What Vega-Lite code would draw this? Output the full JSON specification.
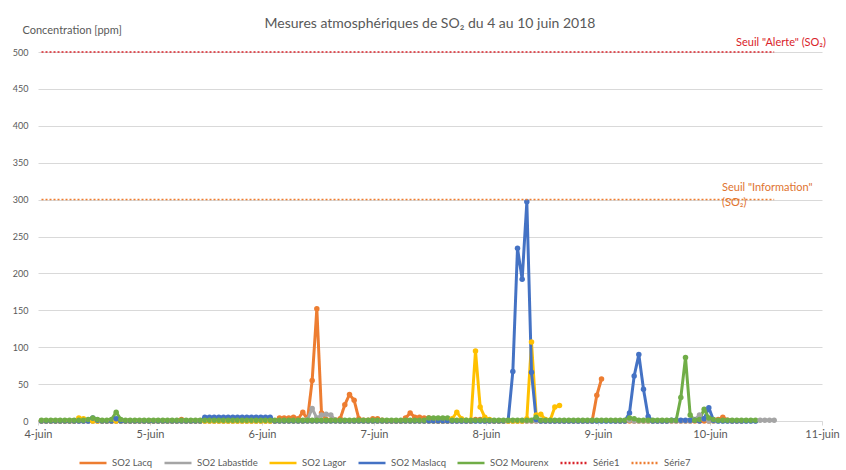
{
"$schema": "https://vega.github.io/schema/vega-lite/v6.json",
"width": 784, "height": 369,
"autosize": {"type": "none"},
"padding": {"left": 38, "top": 52, "right": 24, "bottom": 49},
"background": "white",
"title": {"text": "Mesures atmosphériques de SO₂ du 4 au 10 juin 2018", "fontSize": 14, "fontWeight": "normal", "color": "#595959", "font": "Lato", "anchor": "middle", "offset": -7},
"datasets": {
"so2": [
{"t":"2018-06-04T00:45","Lacq":0,"Labastide":0,"Lagor":0,"Maslacq":0,"Mourenx":1},
{"t":"2018-06-04T01:45","Lacq":0,"Labastide":0,"Lagor":0,"Maslacq":0,"Mourenx":1},
{"t":"2018-06-04T02:45","Lacq":0,"Labastide":0,"Lagor":0,"Maslacq":0,"Mourenx":1},
{"t":"2018-06-04T03:45","Lacq":0,"Labastide":0,"Lagor":0,"Maslacq":0,"Mourenx":1},
{"t":"2018-06-04T04:45","Lacq":0,"Labastide":0,"Lagor":0,"Maslacq":0,"Mourenx":1},
{"t":"2018-06-04T05:45","Lacq":0,"Labastide":0,"Lagor":0,"Maslacq":0,"Mourenx":1},
{"t":"2018-06-04T06:45","Lacq":0,"Labastide":0,"Lagor":0,"Maslacq":0,"Mourenx":1},
{"t":"2018-06-04T07:45","Lacq":0,"Labastide":0,"Lagor":0,"Maslacq":0,"Mourenx":1},
{"t":"2018-06-04T08:45","Lacq":0,"Labastide":0,"Lagor":4,"Maslacq":0,"Mourenx":1},
{"t":"2018-06-04T09:45","Lacq":0,"Labastide":0,"Lagor":3,"Maslacq":0,"Mourenx":1},
{"t":"2018-06-04T10:45","Lacq":0,"Labastide":0,"Lagor":1,"Maslacq":0,"Mourenx":2},
{"t":"2018-06-04T11:45","Lacq":0,"Labastide":0,"Lagor":0,"Maslacq":4,"Mourenx":4},
{"t":"2018-06-04T12:45","Lacq":0,"Labastide":0,"Lagor":0,"Maslacq":1,"Mourenx":2},
{"t":"2018-06-04T13:45","Lacq":0,"Labastide":0,"Lagor":0,"Maslacq":0,"Mourenx":1},
{"t":"2018-06-04T14:45","Lacq":0,"Labastide":0,"Lagor":0,"Maslacq":0,"Mourenx":1},
{"t":"2018-06-04T15:45","Lacq":0,"Labastide":0,"Lagor":0,"Maslacq":0,"Mourenx":2},
{"t":"2018-06-04T16:45","Lacq":0,"Labastide":0,"Lagor":0,"Maslacq":3,"Mourenx":12},
{"t":"2018-06-04T17:45","Lacq":0,"Labastide":0,"Lagor":0,"Maslacq":0,"Mourenx":2},
{"t":"2018-06-04T18:45","Lacq":0,"Labastide":0,"Lagor":0,"Maslacq":0,"Mourenx":1},
{"t":"2018-06-04T19:45","Lacq":0,"Labastide":0,"Lagor":0,"Maslacq":0,"Mourenx":1},
{"t":"2018-06-04T20:45","Lacq":0,"Labastide":0,"Lagor":0,"Maslacq":0,"Mourenx":1},
{"t":"2018-06-04T21:45","Lacq":0,"Labastide":0,"Lagor":0,"Maslacq":0,"Mourenx":1},
{"t":"2018-06-04T22:45","Lacq":0,"Labastide":0,"Lagor":0,"Maslacq":0,"Mourenx":1},
{"t":"2018-06-04T23:45","Lacq":0,"Labastide":0,"Lagor":0,"Maslacq":0,"Mourenx":1},
{"t":"2018-06-05T00:45","Lacq":0,"Labastide":0,"Lagor":0,"Maslacq":0,"Mourenx":1},
{"t":"2018-06-05T01:45","Lacq":0,"Labastide":0,"Lagor":0,"Maslacq":0,"Mourenx":1},
{"t":"2018-06-05T02:45","Lacq":0,"Labastide":0,"Lagor":0,"Maslacq":0,"Mourenx":1},
{"t":"2018-06-05T03:45","Lacq":0,"Labastide":0,"Lagor":0,"Maslacq":0,"Mourenx":1},
{"t":"2018-06-05T04:45","Lacq":0,"Labastide":0,"Lagor":0,"Maslacq":0,"Mourenx":1},
{"t":"2018-06-05T05:45","Lacq":0,"Labastide":0,"Lagor":0,"Maslacq":0,"Mourenx":1},
{"t":"2018-06-05T06:45","Lacq":2,"Labastide":0,"Lagor":0,"Maslacq":0,"Mourenx":1},
{"t":"2018-06-05T07:45","Lacq":0,"Labastide":0,"Lagor":0,"Maslacq":0,"Mourenx":1},
{"t":"2018-06-05T08:45","Lacq":0,"Labastide":0,"Lagor":0,"Maslacq":0,"Mourenx":1},
{"t":"2018-06-05T09:45","Lacq":0,"Labastide":0,"Lagor":0,"Maslacq":0,"Mourenx":1},
{"t":"2018-06-05T10:45","Lacq":0,"Labastide":0,"Lagor":0,"Maslacq":0,"Mourenx":1},
{"t":"2018-06-05T11:45","Lacq":0,"Labastide":0,"Lagor":0,"Maslacq":5,"Mourenx":1},
{"t":"2018-06-05T12:45","Lacq":0,"Labastide":0,"Lagor":0,"Maslacq":5,"Mourenx":1},
{"t":"2018-06-05T13:45","Lacq":0,"Labastide":0,"Lagor":0,"Maslacq":5,"Mourenx":1},
{"t":"2018-06-05T14:45","Lacq":0,"Labastide":0,"Lagor":0,"Maslacq":5,"Mourenx":1},
{"t":"2018-06-05T15:45","Lacq":0,"Labastide":0,"Lagor":0,"Maslacq":5,"Mourenx":1},
{"t":"2018-06-05T16:45","Lacq":0,"Labastide":0,"Lagor":0,"Maslacq":5,"Mourenx":1},
{"t":"2018-06-05T17:45","Lacq":0,"Labastide":0,"Lagor":0,"Maslacq":5,"Mourenx":1},
{"t":"2018-06-05T18:45","Lacq":0,"Labastide":0,"Lagor":0,"Maslacq":5,"Mourenx":1},
{"t":"2018-06-05T19:45","Lacq":0,"Labastide":0,"Lagor":0,"Maslacq":5,"Mourenx":1},
{"t":"2018-06-05T20:45","Lacq":0,"Labastide":0,"Lagor":0,"Maslacq":5,"Mourenx":1},
{"t":"2018-06-05T21:45","Lacq":0,"Labastide":0,"Lagor":0,"Maslacq":5,"Mourenx":1},
{"t":"2018-06-05T22:45","Lacq":0,"Labastide":0,"Lagor":0,"Maslacq":5,"Mourenx":1},
{"t":"2018-06-05T23:45","Lacq":0,"Labastide":0,"Lagor":0,"Maslacq":5,"Mourenx":1},
{"t":"2018-06-06T00:45","Lacq":0,"Labastide":0,"Lagor":0,"Maslacq":5,"Mourenx":1},
{"t":"2018-06-06T01:45","Lacq":0,"Labastide":0,"Lagor":0,"Maslacq":5,"Mourenx":1},
{"t":"2018-06-06T02:45","Lacq":0,"Labastide":0,"Lagor":0,"Maslacq":0,"Mourenx":1},
{"t":"2018-06-06T03:45","Lacq":4,"Labastide":0,"Lagor":0,"Maslacq":0,"Mourenx":1},
{"t":"2018-06-06T04:45","Lacq":4,"Labastide":0,"Lagor":0,"Maslacq":0,"Mourenx":1},
{"t":"2018-06-06T05:45","Lacq":4,"Labastide":0,"Lagor":0,"Maslacq":0,"Mourenx":1},
{"t":"2018-06-06T06:45","Lacq":5,"Labastide":0,"Lagor":0,"Maslacq":0,"Mourenx":1},
{"t":"2018-06-06T07:45","Lacq":3,"Labastide":0,"Lagor":0,"Maslacq":0,"Mourenx":1},
{"t":"2018-06-06T08:45","Lacq":12,"Labastide":0,"Lagor":0,"Maslacq":0,"Mourenx":1},
{"t":"2018-06-06T09:45","Lacq":2,"Labastide":2,"Lagor":0,"Maslacq":0,"Mourenx":1},
{"t":"2018-06-06T10:45","Lacq":55,"Labastide":17,"Lagor":0,"Maslacq":0,"Mourenx":1},
{"t":"2018-06-06T11:45","Lacq":152,"Labastide":4,"Lagor":0,"Maslacq":0,"Mourenx":1},
{"t":"2018-06-06T12:45","Lacq":11,"Labastide":8,"Lagor":0,"Maslacq":0,"Mourenx":1},
{"t":"2018-06-06T13:45","Lacq":2,"Labastide":9,"Lagor":0,"Maslacq":0,"Mourenx":1},
{"t":"2018-06-06T14:45","Lacq":1,"Labastide":8,"Lagor":0,"Maslacq":0,"Mourenx":1},
{"t":"2018-06-06T15:45","Lacq":1,"Labastide":1,"Lagor":0,"Maslacq":0,"Mourenx":1},
{"t":"2018-06-06T16:45","Lacq":3,"Labastide":0,"Lagor":0,"Maslacq":0,"Mourenx":1},
{"t":"2018-06-06T17:45","Lacq":22,"Labastide":0,"Lagor":0,"Maslacq":0,"Mourenx":1},
{"t":"2018-06-06T18:45","Lacq":36,"Labastide":0,"Lagor":0,"Maslacq":0,"Mourenx":1},
{"t":"2018-06-06T19:45","Lacq":28,"Labastide":0,"Lagor":0,"Maslacq":0,"Mourenx":1},
{"t":"2018-06-06T20:45","Lacq":3,"Labastide":0,"Lagor":0,"Maslacq":0,"Mourenx":1},
{"t":"2018-06-06T21:45","Lacq":1,"Labastide":0,"Lagor":0,"Maslacq":0,"Mourenx":1},
{"t":"2018-06-06T22:45","Lacq":1,"Labastide":0,"Lagor":0,"Maslacq":0,"Mourenx":1},
{"t":"2018-06-06T23:45","Lacq":3,"Labastide":0,"Lagor":0,"Maslacq":0,"Mourenx":1},
{"t":"2018-06-07T00:45","Lacq":3,"Labastide":0,"Lagor":0,"Maslacq":0,"Mourenx":1},
{"t":"2018-06-07T01:45","Lacq":1,"Labastide":0,"Lagor":0,"Maslacq":0,"Mourenx":1},
{"t":"2018-06-07T02:45","Lacq":0,"Labastide":0,"Lagor":0,"Maslacq":0,"Mourenx":1},
{"t":"2018-06-07T03:45","Lacq":0,"Labastide":0,"Lagor":0,"Maslacq":0,"Mourenx":1},
{"t":"2018-06-07T04:45","Lacq":0,"Labastide":0,"Lagor":0,"Maslacq":0,"Mourenx":1},
{"t":"2018-06-07T05:45","Lacq":0,"Labastide":0,"Lagor":0,"Maslacq":0,"Mourenx":1},
{"t":"2018-06-07T06:45","Lacq":4,"Labastide":0,"Lagor":0,"Maslacq":0,"Mourenx":1},
{"t":"2018-06-07T07:45","Lacq":11,"Labastide":0,"Lagor":0,"Maslacq":0,"Mourenx":1},
{"t":"2018-06-07T08:45","Lacq":5,"Labastide":0,"Lagor":0,"Maslacq":0,"Mourenx":1},
{"t":"2018-06-07T09:45","Lacq":5,"Labastide":0,"Lagor":0,"Maslacq":0,"Mourenx":1},
{"t":"2018-06-07T10:45","Lacq":4,"Labastide":0,"Lagor":0,"Maslacq":0,"Mourenx":1},
{"t":"2018-06-07T11:45","Lacq":4,"Labastide":0,"Lagor":0,"Maslacq":0,"Mourenx":4},
{"t":"2018-06-07T12:45","Lacq":2,"Labastide":0,"Lagor":0,"Maslacq":0,"Mourenx":4},
{"t":"2018-06-07T13:45","Lacq":0,"Labastide":0,"Lagor":0,"Maslacq":0,"Mourenx":4},
{"t":"2018-06-07T14:45","Lacq":0,"Labastide":0,"Lagor":0,"Maslacq":0,"Mourenx":4},
{"t":"2018-06-07T15:45","Lacq":0,"Labastide":0,"Lagor":0,"Maslacq":0,"Mourenx":4},
{"t":"2018-06-07T16:45","Lacq":0,"Labastide":0,"Lagor":3,"Maslacq":0,"Mourenx":1},
{"t":"2018-06-07T17:45","Lacq":0,"Labastide":0,"Lagor":12,"Maslacq":0,"Mourenx":1},
{"t":"2018-06-07T18:45","Lacq":0,"Labastide":0,"Lagor":3,"Maslacq":0,"Mourenx":1},
{"t":"2018-06-07T19:45","Lacq":0,"Labastide":0,"Lagor":1,"Maslacq":0,"Mourenx":1},
{"t":"2018-06-07T20:45","Lacq":0,"Labastide":0,"Lagor":0,"Maslacq":0,"Mourenx":1},
{"t":"2018-06-07T21:45","Lacq":2,"Labastide":0,"Lagor":95,"Maslacq":0,"Mourenx":1},
{"t":"2018-06-07T22:45","Lacq":2,"Labastide":0,"Lagor":19,"Maslacq":0,"Mourenx":1},
{"t":"2018-06-07T23:45","Lacq":0,"Labastide":0,"Lagor":5,"Maslacq":0,"Mourenx":1},
{"t":"2018-06-08T00:45","Lacq":0,"Labastide":0,"Lagor":2,"Maslacq":0,"Mourenx":1},
{"t":"2018-06-08T01:45","Lacq":0,"Labastide":0,"Lagor":0,"Maslacq":0,"Mourenx":1},
{"t":"2018-06-08T02:45","Lacq":0,"Labastide":0,"Lagor":0,"Maslacq":0,"Mourenx":1},
{"t":"2018-06-08T03:45","Lacq":0,"Labastide":0,"Lagor":0,"Maslacq":0,"Mourenx":1},
{"t":"2018-06-08T04:45","Lacq":0,"Labastide":0,"Lagor":0,"Maslacq":1,"Mourenx":1},
{"t":"2018-06-08T05:45","Lacq":0,"Labastide":0,"Lagor":0,"Maslacq":67,"Mourenx":1},
{"t":"2018-06-08T06:45","Lacq":0,"Labastide":0,"Lagor":0,"Maslacq":234,"Mourenx":1},
{"t":"2018-06-08T07:45","Lacq":0,"Labastide":0,"Lagor":0,"Maslacq":192,"Mourenx":1},
{"t":"2018-06-08T08:45","Lacq":0,"Labastide":0,"Lagor":3,"Maslacq":297,"Mourenx":1},
{"t":"2018-06-08T09:45","Lacq":0,"Labastide":0,"Lagor":107,"Maslacq":66,"Mourenx":1},
{"t":"2018-06-08T10:45","Lacq":0,"Labastide":0,"Lagor":8,"Maslacq":2,"Mourenx":5},
{"t":"2018-06-08T11:45","Lacq":0,"Labastide":0,"Lagor":9,"Maslacq":0,"Mourenx":1},
{"t":"2018-06-08T12:45","Lacq":0,"Labastide":0,"Lagor":2,"Maslacq":0,"Mourenx":1},
{"t":"2018-06-08T13:45","Lacq":0,"Labastide":0,"Lagor":1,"Maslacq":0,"Mourenx":1},
{"t":"2018-06-08T14:45","Lacq":0,"Labastide":0,"Lagor":19,"Maslacq":0,"Mourenx":1},
{"t":"2018-06-08T15:45","Lacq":0,"Labastide":0,"Lagor":21,"Maslacq":0,"Mourenx":1},
{"t":"2018-06-08T16:45","Lacq":0,"Labastide":0,"Lagor":null,"Maslacq":0,"Mourenx":1},
{"t":"2018-06-08T17:45","Lacq":0,"Labastide":0,"Lagor":null,"Maslacq":0,"Mourenx":1},
{"t":"2018-06-08T18:45","Lacq":0,"Labastide":0,"Lagor":null,"Maslacq":0,"Mourenx":1},
{"t":"2018-06-08T19:45","Lacq":0,"Labastide":0,"Lagor":null,"Maslacq":0,"Mourenx":1},
{"t":"2018-06-08T20:45","Lacq":0,"Labastide":0,"Lagor":null,"Maslacq":0,"Mourenx":1},
{"t":"2018-06-08T21:45","Lacq":0,"Labastide":0,"Lagor":null,"Maslacq":0,"Mourenx":1},
{"t":"2018-06-08T22:45","Lacq":0,"Labastide":0,"Lagor":null,"Maslacq":0,"Mourenx":1},
{"t":"2018-06-08T23:45","Lacq":35,"Labastide":0,"Lagor":null,"Maslacq":0,"Mourenx":1},
{"t":"2018-06-09T00:45","Lacq":57,"Labastide":0,"Lagor":null,"Maslacq":0,"Mourenx":1},
{"t":"2018-06-09T01:45","Lacq":null,"Labastide":0,"Lagor":null,"Maslacq":0,"Mourenx":1},
{"t":"2018-06-09T02:45","Lacq":null,"Labastide":0,"Lagor":null,"Maslacq":0,"Mourenx":1},
{"t":"2018-06-09T03:45","Lacq":0,"Labastide":0,"Lagor":null,"Maslacq":0,"Mourenx":1},
{"t":"2018-06-09T04:45","Lacq":0,"Labastide":0,"Lagor":null,"Maslacq":0,"Mourenx":1},
{"t":"2018-06-09T05:45","Lacq":0,"Labastide":0,"Lagor":null,"Maslacq":0,"Mourenx":1},
{"t":"2018-06-09T06:45","Lacq":0,"Labastide":1,"Lagor":null,"Maslacq":11,"Mourenx":4},
{"t":"2018-06-09T07:45","Lacq":0,"Labastide":0,"Lagor":null,"Maslacq":61,"Mourenx":3},
{"t":"2018-06-09T08:45","Lacq":0,"Labastide":0,"Lagor":null,"Maslacq":90,"Mourenx":1},
{"t":"2018-06-09T09:45","Lacq":0,"Labastide":0,"Lagor":null,"Maslacq":43,"Mourenx":1},
{"t":"2018-06-09T10:45","Lacq":0,"Labastide":0,"Lagor":null,"Maslacq":6,"Mourenx":1},
{"t":"2018-06-09T11:45","Lacq":0,"Labastide":0,"Lagor":null,"Maslacq":0,"Mourenx":1},
{"t":"2018-06-09T12:45","Lacq":0,"Labastide":0,"Lagor":null,"Maslacq":0,"Mourenx":1},
{"t":"2018-06-09T13:45","Lacq":0,"Labastide":0,"Lagor":null,"Maslacq":0,"Mourenx":1},
{"t":"2018-06-09T14:45","Lacq":0,"Labastide":0,"Lagor":null,"Maslacq":0,"Mourenx":1},
{"t":"2018-06-09T15:45","Lacq":0,"Labastide":0,"Lagor":null,"Maslacq":1,"Mourenx":1},
{"t":"2018-06-09T16:45","Lacq":0,"Labastide":0,"Lagor":null,"Maslacq":1,"Mourenx":1},
{"t":"2018-06-09T17:45","Lacq":0,"Labastide":0,"Lagor":null,"Maslacq":1,"Mourenx":32},
{"t":"2018-06-09T18:45","Lacq":0,"Labastide":0,"Lagor":null,"Maslacq":1,"Mourenx":86},
{"t":"2018-06-09T19:45","Lacq":0,"Labastide":0,"Lagor":null,"Maslacq":1,"Mourenx":8},
{"t":"2018-06-09T20:45","Lacq":0,"Labastide":2,"Lagor":null,"Maslacq":1,"Mourenx":1},
{"t":"2018-06-09T21:45","Lacq":0,"Labastide":8,"Lagor":null,"Maslacq":0,"Mourenx":2},
{"t":"2018-06-09T22:45","Lacq":0,"Labastide":3,"Lagor":null,"Maslacq":3,"Mourenx":16},
{"t":"2018-06-09T23:45","Lacq":0,"Labastide":0,"Lagor":null,"Maslacq":18,"Mourenx":4},
{"t":"2018-06-10T00:45","Lacq":0,"Labastide":0,"Lagor":null,"Maslacq":1,"Mourenx":2},
{"t":"2018-06-10T01:45","Lacq":2,"Labastide":0,"Lagor":null,"Maslacq":0,"Mourenx":1},
{"t":"2018-06-10T02:45","Lacq":5,"Labastide":0,"Lagor":null,"Maslacq":0,"Mourenx":1},
{"t":"2018-06-10T03:45","Lacq":1,"Labastide":0,"Lagor":null,"Maslacq":0,"Mourenx":1},
{"t":"2018-06-10T04:45","Lacq":0,"Labastide":0,"Lagor":null,"Maslacq":0,"Mourenx":1},
{"t":"2018-06-10T05:45","Lacq":0,"Labastide":0,"Lagor":null,"Maslacq":0,"Mourenx":1},
{"t":"2018-06-10T06:45","Lacq":0,"Labastide":0,"Lagor":null,"Maslacq":0,"Mourenx":1},
{"t":"2018-06-10T07:45","Lacq":null,"Labastide":0,"Lagor":null,"Maslacq":0,"Mourenx":1},
{"t":"2018-06-10T08:45","Lacq":null,"Labastide":0,"Lagor":null,"Maslacq":0,"Mourenx":1},
{"t":"2018-06-10T09:45","Lacq":null,"Labastide":0,"Lagor":null,"Maslacq":0,"Mourenx":1},
{"t":"2018-06-10T10:45","Lacq":null,"Labastide":1,"Lagor":null,"Maslacq":null,"Mourenx":null},
{"t":"2018-06-10T11:45","Lacq":null,"Labastide":1,"Lagor":null,"Maslacq":null,"Mourenx":null},
{"t":"2018-06-10T12:45","Lacq":null,"Labastide":1,"Lagor":null,"Maslacq":null,"Mourenx":null},
{"t":"2018-06-10T13:45","Lacq":null,"Labastide":1,"Lagor":null,"Maslacq":null,"Mourenx":null}
],
"seuils": [
{"t":"2018-06-04T00:45","v":500,"key":"Série1"},
{"t":"2018-06-10T13:45","v":500,"key":"Série1"},
{"t":"2018-06-04T00:45","v":300,"key":"Série7"},
{"t":"2018-06-10T13:45","v":300,"key":"Série7"}
],
"labels": [
{"t":"2018-06-10T15:13","v":500,"label":"Seuil \"Alerte\" (SO₂)","kind":"alerte"},
{"t":"2018-06-10T02:35","v":300,"label":"Seuil \"Information\"\n(SO₂)","kind":"info"}
]
},
"encoding": {
"x": {"field": "t", "type": "temporal",
 "scale": {"domain": [{"year":2018,"month":6,"date":4},{"year":2018,"month":6,"date":11}]},
 "axis": {"title": null, "grid": false, "tickCount": {"interval": "day", "step": 1},
  "labelExpr": "timeFormat(datum.value, '%-d') + '-juin'",
  "domainColor": "#D9D9D9", "tickColor": "#D9D9D9", "tickSize": 4,
  "labelFontSize": 11, "labelColor": "#595959", "labelPadding": 3,
  "labelFlush": false, "labelOverlap": false}},
"y": {"field": "v", "type": "quantitative",
 "scale": {"domain": [0, 500], "nice": false},
 "axis": {"title": "Concentration [ppm]", "titleAngle": 0, "titleAlign": "left", "titleBaseline": "middle",
  "titleX": -16, "titleY": -22, "titleFontSize": 11, "titleFontWeight": "normal", "titleColor": "#595959",
  "values": [0,50,100,150,200,250,300,350,400,450,500],
  "labelFontSize": 9, "labelColor": "#595959", "labelPadding": 10,
  "ticks": false, "domain": false, "gridColor": "#D9D9D9", "gridWidth": 1}}
},
"layer": [
{"data": {"name": "so2"},
 "transform": [{"fold": ["Lacq","Labastide","Lagor","Maslacq","Mourenx"], "as": ["key","v"]}],
 "mark": {"type": "line", "strokeWidth": 3, "strokeJoin": "round", "strokeCap": "round"},
 "encoding": {
  "color": {"field": "key", "type": "nominal",
   "scale": {"domain": ["Lacq","Labastide","Lagor","Maslacq","Mourenx","Série1","Série7"], "range": ["#ED7D31","#A5A5A5","#FFC000","#4472C4","#70AD47","#D9222A","#ED7D31"]},
   "legend": {"title": null, "orient": "none", "legendX": 40, "legendY": 396, "direction": "horizontal", "columns": 7,
    "symbolType": "stroke", "symbolSize": 729, "symbolStrokeWidth": 2.5, "labelFontSize": 9.5, "labelColor": "#595959", "labelFont": "Lato",
    "labelOffset": 4, "columnPadding": 6, "padding": 0,
    "labelExpr": "indexof(datum.label, 'Série') === 0 ? datum.label : 'SO2 ' + datum.label"}},
  "strokeDash": {"field": "key", "type": "nominal",
   "scale": {"domain": ["Lacq","Labastide","Lagor","Maslacq","Mourenx","Série1","Série7"], "range": [[1,0],[1,0],[1,0],[1,0],[1,0],[2,2],[2,2]]}}
 }},
{"data": {"name": "so2"},
 "transform": [{"fold": ["Lacq","Labastide","Lagor","Maslacq","Mourenx"], "as": ["key","v"]}],
 "mark": {"type": "point", "filled": true, "size": 30, "opacity": 1},
 "encoding": {"color": {"field": "key", "type": "nominal", "legend": null,
   "scale": {"domain": ["Lacq","Labastide","Lagor","Maslacq","Mourenx","Série1","Série7"], "range": ["#ED7D31","#A5A5A5","#FFC000","#4472C4","#70AD47","#D9222A","#ED7D31"]}}}},
{"data": {"name": "seuils"},
 "mark": {"type": "line", "strokeWidth": 1.5},
 "encoding": {"color": {"field": "key", "type": "nominal", "legend": null,
   "scale": {"domain": ["Lacq","Labastide","Lagor","Maslacq","Mourenx","Série1","Série7"], "range": ["#ED7D31","#A5A5A5","#FFC000","#4472C4","#70AD47","#D9222A","#ED7D31"]}},
  "strokeDash": {"field": "key", "type": "nominal", "legend": null,
   "scale": {"domain": ["Lacq","Labastide","Lagor","Maslacq","Mourenx","Série1","Série7"], "range": [[1,0],[1,0],[1,0],[1,0],[1,0],[2,2],[2,2]]}}}},
{"data": {"name": "labels"},
 "transform": [{"filter": "datum.kind === 'alerte'"}],
 "mark": {"type": "text", "align": "center", "baseline": "middle", "dy": -9, "fontSize": 11, "font": "Lato", "color": "#D9222A"},
 "encoding": {"text": {"field": "label"}}},
{"data": {"name": "labels"},
 "transform": [{"filter": "datum.kind === 'info'"}],
 "mark": {"type": "text", "align": "left", "baseline": "middle", "dy": -12, "fontSize": 11, "font": "Lato", "color": "#E07430", "lineBreak": "\n", "lineHeight": 15},
 "encoding": {"text": {"field": "label"}}}
],
"config": {"font": "Lato", "view": {"stroke": null}}
}
